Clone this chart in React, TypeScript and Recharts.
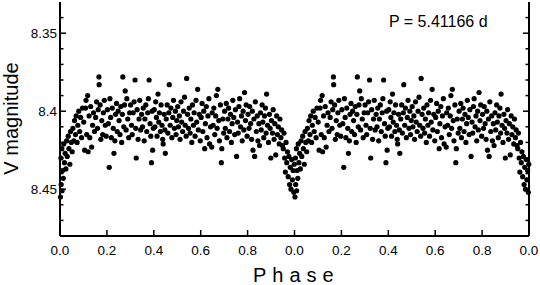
import React from 'react';
import { ScatterChart, Scatter, XAxis, YAxis } from 'recharts';

// Phase-folded V-band light curve: [phase, V magnitude]
const lightCurve: [number, number][] = [
  [0.002,8.455],[0.004,8.430],[0.005,8.447],[0.008,8.424],[0.009,8.451],[0.011,8.438],[0.014,8.443],[0.016,8.421],
  [0.019,8.433],[0.022,8.427],[0.025,8.437],[0.028,8.419],[0.031,8.429],[0.035,8.416],[0.038,8.424],[0.042,8.434],
  [0.045,8.413],[0.048,8.420],
  [0.052,8.426],[0.055,8.411],[0.059,8.419],[0.062,8.406],[0.066,8.415],[0.069,8.403],[0.073,8.420],[0.076,8.409],
  [0.080,8.400],[0.084,8.413],[0.088,8.404],[0.092,8.417],[0.096,8.398],
  [0.101,8.407],[0.105,8.425],[0.109,8.398],[0.111,8.393],[0.114,8.415],[0.118,8.390],[0.120,8.426],[0.124,8.403],
  [0.127,8.417],[0.131,8.397],[0.135,8.423],[0.139,8.409],[0.143,8.401],[0.147,8.413],
  [0.152,8.404],[0.156,8.394],[0.160,8.411],[0.163,8.399],[0.166,8.378],[0.167,8.383],[0.171,8.396],[0.174,8.418],
  [0.178,8.406],[0.182,8.415],[0.185,8.401],[0.189,8.393],[0.193,8.409],[0.197,8.416],
  [0.202,8.399],[0.206,8.408],[0.210,8.436],[0.213,8.392],[0.216,8.404],[0.219,8.417],[0.223,8.398],[0.227,8.411],
  [0.230,8.427],[0.234,8.419],[0.237,8.402],[0.241,8.395],[0.244,8.413],[0.248,8.400],
  [0.252,8.406],[0.256,8.415],[0.259,8.397],[0.263,8.420],[0.266,8.402],[0.268,8.378],[0.272,8.410],[0.275,8.396],
  [0.278,8.387],[0.282,8.412],[0.285,8.392],[0.289,8.405],[0.293,8.417],[0.297,8.401],
  [0.301,8.396],[0.305,8.409],[0.308,8.415],[0.312,8.401],[0.316,8.394],[0.320,8.380],[0.323,8.411],[0.325,8.430],
  [0.329,8.399],[0.333,8.418],[0.337,8.405],[0.340,8.393],[0.344,8.412],[0.348,8.402],
  [0.352,8.410],[0.355,8.398],[0.359,8.419],[0.362,8.405],[0.366,8.396],[0.370,8.413],[0.374,8.401],[0.377,8.392],
  [0.380,8.380],[0.384,8.408],[0.387,8.416],[0.390,8.433],[0.393,8.400],[0.395,8.425],[0.398,8.411],
  [0.402,8.399],[0.405,8.410],[0.408,8.394],[0.411,8.404],[0.414,8.416],[0.418,8.389],[0.421,8.407],[0.424,8.401],
  [0.428,8.413],[0.431,8.396],[0.435,8.409],[0.438,8.418],[0.440,8.421],[0.444,8.402],[0.447,8.412],[0.449,8.427],
  [0.453,8.405],[0.457,8.396],[0.460,8.414],[0.464,8.401],[0.466,8.383],[0.470,8.409],[0.473,8.398],[0.477,8.417],
  [0.481,8.404],[0.484,8.393],[0.488,8.411],[0.492,8.400],[0.495,8.415],[0.498,8.406],
  [0.502,8.397],[0.505,8.410],[0.509,8.403],[0.512,8.418],[0.516,8.394],[0.519,8.407],[0.523,8.413],[0.527,8.400],
  [0.531,8.391],[0.534,8.409],[0.538,8.416],[0.540,8.379],[0.544,8.402],[0.548,8.411],
  [0.551,8.398],[0.555,8.414],[0.558,8.405],[0.562,8.420],[0.565,8.396],[0.569,8.409],[0.572,8.401],[0.576,8.416],
  [0.580,8.393],[0.583,8.407],[0.587,8.386],[0.590,8.412],[0.594,8.402],[0.598,8.419],
  [0.602,8.404],[0.606,8.395],[0.609,8.413],[0.613,8.400],[0.617,8.424],[0.620,8.408],[0.624,8.397],[0.627,8.417],
  [0.631,8.403],[0.635,8.392],[0.638,8.421],[0.642,8.410],[0.647,8.423],[0.649,8.401],
  [0.653,8.409],[0.656,8.398],[0.660,8.415],[0.664,8.403],[0.667,8.390],[0.670,8.411],[0.673,8.386],[0.677,8.406],
  [0.680,8.419],[0.684,8.396],[0.688,8.433],[0.690,8.424],[0.694,8.405],[0.698,8.414],
  [0.702,8.400],[0.705,8.411],[0.709,8.395],[0.712,8.417],[0.716,8.405],[0.719,8.398],[0.723,8.413],[0.727,8.402],
  [0.731,8.420],[0.734,8.408],[0.737,8.393],[0.741,8.404],[0.745,8.415],[0.748,8.399],[0.753,8.429],
  [0.757,8.407],[0.760,8.414],[0.763,8.397],[0.766,8.392],[0.770,8.410],[0.774,8.403],[0.777,8.419],[0.781,8.400],
  [0.784,8.412],[0.787,8.388],[0.791,8.406],[0.794,8.396],[0.798,8.416],
  [0.802,8.402],[0.806,8.411],[0.809,8.397],[0.813,8.408],[0.817,8.418],[0.820,8.400],[0.823,8.425],[0.827,8.405],
  [0.830,8.429],[0.833,8.394],[0.837,8.413],[0.841,8.403],[0.844,8.419],[0.848,8.408],
  [0.851,8.422],[0.855,8.401],[0.858,8.412],[0.862,8.396],[0.865,8.407],[0.869,8.417],[0.872,8.403],[0.876,8.398],
  [0.879,8.414],[0.881,8.389],[0.885,8.409],[0.889,8.420],[0.893,8.402],[0.896,8.411],[0.899,8.430],
  [0.902,8.406],[0.906,8.414],[0.909,8.399],[0.913,8.418],[0.916,8.408],[0.920,8.428],[0.924,8.403],[0.927,8.415],
  [0.931,8.410],[0.935,8.421],[0.938,8.405],[0.942,8.417],[0.945,8.412],[0.949,8.422],
  [0.952,8.424],[0.955,8.414],[0.958,8.430],[0.961,8.439],[0.964,8.420],[0.967,8.433],[0.970,8.426],[0.973,8.442],
  [0.976,8.429],[0.979,8.447],[0.982,8.436],[0.985,8.450],[0.988,8.431],[0.991,8.444],[0.994,8.438],[0.997,8.452],
  [0.999,8.434],
];

const cycles = [0, 1];
const xTicks = [0, 0.2, 0.4, 0.6, 0.8, 1.0, 1.2, 1.4, 1.6, 1.8, 2.0];
const xTickLabels = ['0.0', '0.2', '0.4', '0.6', '0.8', '0.0', '0.2', '0.4', '0.6', '0.8', '0.0'];
const yTicks = [8.34, 8.35, 8.36, 8.37, 8.38, 8.39, 8.40, 8.41, 8.42, 8.43, 8.44, 8.45, 8.46, 8.47];
const yMajor = [8.35, 8.40, 8.45];
const yMajorLabels = ['8.35', '8.4', '8.45'];
const periodLabel = 'P = 5.41166 d';

const data = cycles.flatMap((c) => lightCurve.map(([p, m]) => ({ x: p + c, y: m })));

const FONT = '"Liberation Sans", Arial, Helvetica, sans-serif';
const W = 540;
const H = 285;

const majorIndex = (v: number) => yMajor.findIndex((m) => Math.abs(m - v) < 1e-6);

const LeftTick = (props: any) => {
  const { x, y, payload } = props;
  const idx = majorIndex(payload.value);
  const ax = x + 3;
  const len = idx >= 0 ? 6 : 3.5;
  return (
    <g>
      <line x1={ax} x2={ax + len} y1={y} y2={y} stroke="#000" strokeWidth={1.5} />
      {idx >= 0 && (
        <text x={x} y={y} dy="0.36em" textAnchor="end" fontSize={13.5} fontFamily={FONT} fill="#000">
          {yMajorLabels[idx]}
        </text>
      )}
    </g>
  );
};

const RightTick = (props: any) => {
  const { x, y, payload } = props;
  const idx = majorIndex(payload.value);
  const len = idx >= 0 ? 6 : 3.5;
  return <line x1={x} x2={x - len} y1={y} y2={y} stroke="#000" strokeWidth={1.5} />;
};

const BottomTick = (props: any) => {
  const { x, y, payload } = props;
  const idx = xTicks.findIndex((t) => Math.abs(t - payload.value) < 1e-6);
  return (
    <g>
      <line x1={x} x2={x} y1={y} y2={y - 6} stroke="#000" strokeWidth={1.5} />
      <text x={x} y={y + 14} dy="0.36em" textAnchor="middle" fontSize={13.5} fontFamily={FONT} fill="#000">
        {idx >= 0 ? xTickLabels[idx] : ''}
      </text>
    </g>
  );
};

const TopTick = (props: any) => {
  const { x, y } = props;
  return <line x1={x} x2={x} y1={y} y2={y + 6} stroke="#000" strokeWidth={1.5} />;
};

const Dot = (props: any) => <circle cx={props.cx} cy={props.cy} r={2.6} fill="#000" />;

export default function App() {
  return (
    <div style={{ position: 'absolute', left: 0, top: 0, width: W, height: H, background: '#fff' }}>
      <ScatterChart width={W} height={H} margin={{ top: 2, right: 0, bottom: 19, left: 0 }}>
        <XAxis
          xAxisId="b"
          dataKey="x"
          type="number"
          domain={[0, 2]}
          ticks={xTicks}
          orientation="bottom"
          height={30}
          tickSize={0}
          tickMargin={0}
          tickLine={false}
          interval={0}
          axisLine={{ stroke: '#000', strokeWidth: 2 }}
          tick={<BottomTick />}
        />
        <XAxis
          xAxisId="t"
          type="number"
          domain={[0, 2]}
          allowDataOverflow
          ticks={xTicks}
          orientation="top"
          height={0}
          tickSize={0}
          tickMargin={0}
          tickLine={false}
          interval={0}
          axisLine={{ stroke: '#000', strokeWidth: 2 }}
          tick={<TopTick />}
        />
        <YAxis
          yAxisId="l"
          dataKey="y"
          type="number"
          domain={[8.33, 8.48]}
          reversed
          ticks={yTicks}
          orientation="left"
          width={60}
          tickSize={0}
          tickMargin={3}
          tickLine={false}
          interval={0}
          axisLine={{ stroke: '#000', strokeWidth: 2 }}
          tick={<LeftTick />}
        />
        <YAxis
          yAxisId="r"
          type="number"
          domain={[8.33, 8.48]}
          allowDataOverflow
          reversed
          ticks={yTicks}
          orientation="right"
          width={11}
          tickSize={0}
          tickMargin={0}
          tickLine={false}
          interval={0}
          axisLine={{ stroke: '#000', strokeWidth: 2 }}
          tick={<RightTick />}
        />
        <Scatter
          xAxisId="b"
          yAxisId="l"
          data={data}
          shape={<Dot />}
          isAnimationActive={false}
        />
      </ScatterChart>
      <svg
        width={W}
        height={H}
        style={{ position: 'absolute', left: 0, top: 0, pointerEvents: 'none' }}
      >
        <text x={389} y={27} fontSize={16} fontFamily={FONT} fill="#000">
          {periodLabel}
        </text>
        <text
          x={18}
          y={118.5}
          transform="rotate(-90 18 118.5)"
          textAnchor="middle"
          fontSize={20}
          fontFamily={FONT}
          fill="#000"
        >
          V magnitude
        </text>
        <text x={253} y={282} fontSize={20} fontFamily={FONT} fill="#000" style={{ letterSpacing: '6px' }}>
          Phase
        </text>
      </svg>
    </div>
  );
}
